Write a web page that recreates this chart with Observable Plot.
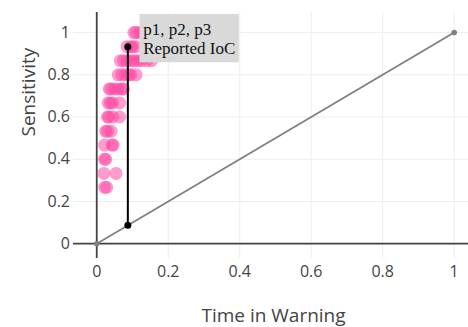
<!DOCTYPE html>
<html>
<head>
<meta charset="utf-8">
<script src="https://cdn.jsdelivr.net/npm/d3@7"></script>
<script src="https://cdn.jsdelivr.net/npm/@observablehq/plot@0.6"></script>
<style>
  html, body { margin: 0; padding: 0; background: #fff; }
</style>
</head>
<body>
<div id="chart"></div>
<script>
// ---- data ----
const xTicks = [0, 0.2, 0.4, 0.6, 0.8, 1];
const yTicks = [0, 0.2, 0.4, 0.6, 0.8, 1];

// simulated threshold points: time in warning vs sensitivity (k/15)
const pointTime = [
  0.022, 0.028,
  0.02, 0.054,
  0.022, 0.025,
  0.022, 0.043, 0.046,
  0.025, 0.03, 0.04,
  0.03, 0.034, 0.045, 0.064,
  0.032, 0.038, 0.045, 0.064,
  0.035, 0.04, 0.05, 0.06, 0.07, 0.075,
  0.06, 0.07, 0.08, 0.09, 0.095, 0.11,
  0.066, 0.075, 0.085, 0.095, 0.105, 0.115, 0.125, 0.14, 0.153,
  0.085, 0.095, 0.1, 0.11,
  0.104, 0.11, 0.12, 0.13
];
const pointSens = [
  0.267, 0.267,
  0.333, 0.333,
  0.4, 0.4,
  0.467, 0.467, 0.467,
  0.533, 0.533, 0.533,
  0.6, 0.6, 0.6, 0.6,
  0.667, 0.667, 0.667, 0.667,
  0.733, 0.733, 0.733, 0.733, 0.733, 0.733,
  0.8, 0.8, 0.8, 0.8, 0.8, 0.8,
  0.867, 0.867, 0.867, 0.867, 0.867, 0.867, 0.867, 0.867, 0.867,
  0.933, 0.933, 0.933, 0.933,
  1, 1, 1, 1
];

// random-warning diagonal
const diagTime = [0, 1];
const diagSens = [0, 1];

// reported IoC segment
const iocTime = [0.087, 0.087];
const iocSens = [0.087, 0.933];
const iocLabel = "p1, p2, p3\nReported IoC";

const points = pointTime.map((t, i) => ({t, s: pointSens[i]}));
const diag = diagTime.map((t, i) => ({t, s: diagSens[i]}));
const ioc = iocTime.map((t, i) => ({t, s: iocSens[i]}));

const chart = Plot.plot({
  width: 468,
  height: 327,
  marginLeft: 73,
  marginRight: 0,
  marginTop: 12,
  marginBottom: 69,
  style: {fontFamily: "'Open Sans', sans-serif", fontSize: "16px", color: "#444", background: "#fff"},
  x: {domain: [-0.065, 1.04]},
  y: {domain: [-0.07, 1.095]},
  marks: [
    Plot.gridX(xTicks, {stroke: "#eee", strokeOpacity: 1, strokeWidth: 1}),
    Plot.gridY(yTicks, {stroke: "#eee", strokeOpacity: 1, strokeWidth: 1}),
    Plot.ruleX([0], {stroke: "#444", strokeWidth: 1.8}),
    Plot.ruleY([0], {stroke: "#444", strokeWidth: 1.8}),
    Plot.axisX(xTicks, {tickSize: 0, tickPadding: 7, tickFormat: d => String(d), fontSize: 16, label: null}),
    Plot.axisY(yTicks, {tickSize: 0, tickPadding: 3.5, tickFormat: d => String(d), fontSize: 16, label: null}),
    Plot.text(["Time in Warning"], {frameAnchor: "bottom", dx: 2.5, dy: 57.5, lineAnchor: "middle", fontSize: 19, fill: "#444"}),
    Plot.text(["Sensitivity"], {frameAnchor: "left", rotate: -90, dx: -45, dy: 1, lineAnchor: "middle", fontSize: 19, fill: "#444"}),
    Plot.line(diag, {x: "t", y: "s", stroke: "#808080", strokeWidth: 1.8}),
    Plot.dot(diag, {x: "t", y: "s", r: 2.8, fill: "#808080"}),
    Plot.dot(points, {x: "t", y: "s", r: 6.5, fill: "#ff48a4", fillOpacity: 0.55}),
    Plot.line(ioc, {x: "t", y: "s", stroke: "#000", strokeWidth: 2}),
    Plot.dot(ioc, {x: "t", y: "s", r: 3.5, fill: "#000"}),
    Plot.text([ioc[1]], {x: "t", y: "s", text: () => iocLabel, textAnchor: "start", lineAnchor: "top",
      dx: 15.4, dy: -24.5, lineHeight: 1.1, fontSize: 17, fontFamily: "'Liberation Serif', 'Times New Roman', serif",
      fill: "#111", className: "ioc-label"})
  ]
});

document.getElementById("chart").appendChild(chart);

// gray background box behind the IoC label
const svg = chart.tagName.toLowerCase() === "svg" ? chart : chart.querySelector("svg");
const labelGroup = svg.querySelector(".ioc-label");
if (labelGroup) {
  const txt = labelGroup.querySelector("text");
  const bb = txt.getBBox();
  const rect = document.createElementNS("http://www.w3.org/2000/svg", "rect");
  rect.setAttribute("x", bb.x - 3.7);
  rect.setAttribute("y", bb.y - 6.5);
  rect.setAttribute("width", bb.width + 7.2);
  rect.setAttribute("height", bb.height + 10.6);
  rect.setAttribute("fill", "#d9d9d9");
  const t = txt.getAttribute("transform");
  if (t) rect.setAttribute("transform", t);
  txt.parentNode.insertBefore(rect, txt);
}
</script>
</body>
</html>
